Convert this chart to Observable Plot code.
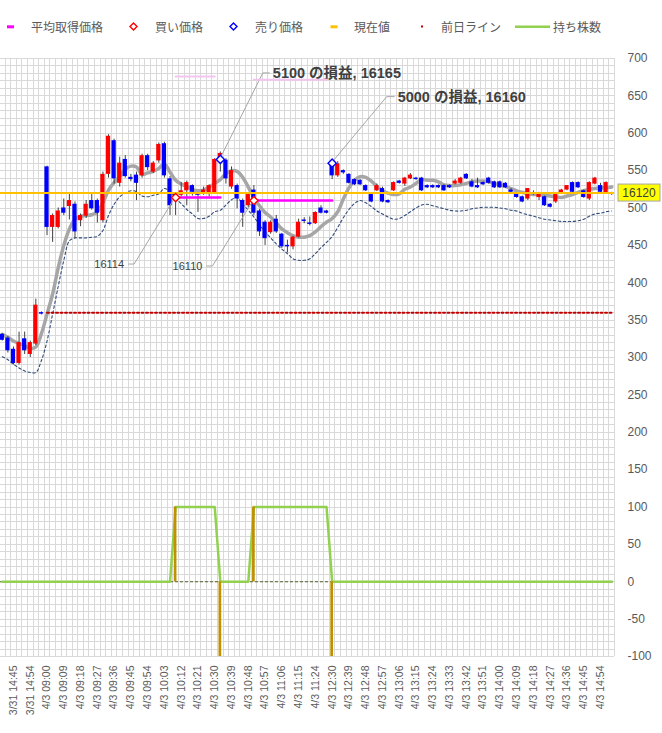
<!DOCTYPE html>
<html><head><meta charset="utf-8">
<script src="https://cdn.jsdelivr.net/npm/d3@7"></script>
<script src="https://cdn.jsdelivr.net/npm/@observablehq/plot@0.6"></script>
<style>
html,body{margin:0;padding:0;background:#fff;overflow:hidden;}
#legend{position:relative;width:662px;height:52px;}
#legend .t{position:absolute;top:18px;font-family:"Noto Sans CJK JP",sans-serif;font-size:12px;line-height:17px;color:#595959;white-space:nowrap;}
#legend svg{position:absolute;left:0;top:0;}
#chart svg{display:block;}
</style></head><body>
<div id="legend"></div>
<div id="chart"></div>
<script>
// ---------- data ----------
const times = [
"3/31 14:39","3/31 14:42","3/31 14:45","3/31 14:48","3/31 14:51","3/31 14:54","3/31 14:57","3/31 15:00",
"4/3 09:00","4/3 09:03","4/3 09:06","4/3 09:09","4/3 09:12","4/3 09:15","4/3 09:18","4/3 09:21","4/3 09:24","4/3 09:27",
"4/3 09:30","4/3 09:33","4/3 09:36","4/3 09:39","4/3 09:42","4/3 09:45","4/3 09:48","4/3 09:51","4/3 09:54","4/3 09:57",
"4/3 10:00","4/3 10:03","4/3 10:06","4/3 10:09","4/3 10:12","4/3 10:15","4/3 10:18","4/3 10:21","4/3 10:24","4/3 10:27",
"4/3 10:30","4/3 10:33","4/3 10:36","4/3 10:39","4/3 10:42","4/3 10:45","4/3 10:48","4/3 10:51","4/3 10:54","4/3 10:57",
"4/3 11:00","4/3 11:03","4/3 11:06","4/3 11:09","4/3 11:12","4/3 11:15","4/3 11:18","4/3 11:21","4/3 11:24","4/3 11:27","4/3 11:30",
"4/3 12:30","4/3 12:33","4/3 12:36","4/3 12:39","4/3 12:42","4/3 12:45","4/3 12:48","4/3 12:51","4/3 12:54","4/3 12:57",
"4/3 13:00","4/3 13:03","4/3 13:06","4/3 13:09","4/3 13:12","4/3 13:15","4/3 13:18","4/3 13:21","4/3 13:24","4/3 13:27",
"4/3 13:30","4/3 13:33","4/3 13:36","4/3 13:39","4/3 13:42","4/3 13:45","4/3 13:48","4/3 13:51","4/3 13:54","4/3 13:57",
"4/3 14:00","4/3 14:03","4/3 14:06","4/3 14:09","4/3 14:12","4/3 14:15","4/3 14:18","4/3 14:21","4/3 14:24","4/3 14:27",
"4/3 14:30","4/3 14:33","4/3 14:36","4/3 14:39","4/3 14:42","4/3 14:45","4/3 14:48","4/3 14:51","4/3 14:54","4/3 14:57","4/3 15:00"
];
// candle values in axis units (price - 15600)
const open = [331,326,311,292,325,304,318,360,555,474,
474,500,502,505,483,489,510,510,483,545,
590,533,565,541,544,543,570,548,563,586,
539,518,517,523,530,519,519,520,520,563,
564,528,530,510,503,524,496,481,467,485,
465,450,448,461,484,480,479,500,496,560,
543,550,545,538,537,530,518,523,526,510,
523,536,532,539,540,540,530,530,530,530,
530,532,533,545,535,530,534,540,535,535,
533,524,519,515,512,519,514,515,505,508,
519,524,534,534,523,512,532,530,520,520];
const high = [332,328,314,334,334,322,378,361,556,492,
500,512,518,508,492,510,518,512,548,598,
592,568,570,545,548,572,572,562,587,588,
542,520,534,536,531,520,528,531,566,575,
566,555,532,512,520,530,498,483,483,490,
466,457,462,485,487,488,495,503,497,562,
562,551,546,539,538,531,519,532,528,511,
535,537,541,546,541,541,531,531,531,531,
531,538,541,546,538,540,535,541,536,536,
534,526,520,516,526,523,521,516,506,518,
525,530,535,535,524,535,541,533,535,521];
const low = [322,306,290,290,304,300,316,357,463,454,
472,490,484,459,475,486,497,480,480,540,
532,528,540,535,510,540,550,546,560,540,
490,490,515,503,516,494,517,515,518,548,
532,525,499,474,500,490,462,450,465,466,
446,440,444,460,479,476,478,492,492,538,
541,545,532,530,530,522,507,522,507,506,
522,532,529,538,537,522,526,526,526,522,
526,531,532,538,527,526,530,532,526,526,
526,520,513,507,510,517,510,502,500,506,
518,523,520,526,513,510,531,520,519,517];
const close = [323,309,292,320,309,320,370,358,474,490,
496,493,510,468,490,505,499,493,545,596,
539,560,542,538,533,570,554,560,585,543,
503,510,523,534,521,517,524,530,565,573,
539,550,512,493,518,493,468,459,481,468,
448,448,461,481,482,478,494,493,493,543,
559,547,533,531,531,523,508,530,508,507,
534,533,540,544,538,523,527,527,527,523,
527,536,540,539,528,527,531,533,527,527,
527,521,514,508,526,518,520,503,501,518,
524,530,521,527,514,534,540,521,534,518];
// moving average (thick grey) and lower band (dashed), axis units
const movingAvg = [331,327,322,319,316,312,314,332,358,385,
420,450,472,485,489,490,491,495,507,524,
534,542,552,556,555,545,547,549,553,559,
548,537,532,529,525,523,524,528,533,538,
546,550,549,541,528,514,503,494,488,480,
472,467,463,461,461,463,468,475,481,486,
495,512,527,537,542,541,536,529,523,520,
518,519,525,528,533,538,537,537,535,531,
530,530,531,533,535,536,536,535,533,531,
529,526,523,521,519,518,518,517,516,515,
514,516,518,521,523,525,526,527,527,528];
const lowerBand = [301,297,291,286,282,280,280,296,322,358,
395,430,456,460,460,460,461,462,470,490,
505,515,520,523,522,516,515,517,519,526,
522,513,506,498,492,486,486,489,495,497,
504,511,514,505,497,488,478,468,460,452,
445,439,432,430,430,432,439,447,454,462,
474,487,498,506,510,507,502,496,492,488,
485,486,490,495,500,504,505,503,501,499,
497,496,496,497,499,500,501,501,501,500,
499,497,496,493,491,489,487,485,484,483,
482,482,482,483,485,489,492,493,495,496];
// shares held (持ち株数)
const holdings = [0,0,0,0,0,0,0,0,0,0, 0,0,0,0,0,0,0,0,0,0, 0,0,0,0,0,0,0,0,0,0,
0,100,100,100,100,100,100,100,100,0, 0,0,0,0,0,100,100,100,100,100,
100,100,100,100,100,100,100,100,100,0, 0,0,0,0,0,0,0,0,0,0,
0,0,0,0,0,0,0,0,0,0, 0,0,0,0,0,0,0,0,0,0, 0,0,0,0,0,0,0,0,0,0, 0,0,0,0,0,0,0,0,0,0];
// average acquisition price (平均取得価格), yen
const avgPrice = [null,null,null,null,null,null,null,null,null,null, null,null,null,null,null,null,null,null,null,null,
null,null,null,null,null,null,null,null,null,null, null,
16114,16114,16114,16114,16114,16114,16114,16114,16114,
null,null,null,null,null,
16110,16110,16110,16110,16110,16110,16110,16110,16110,16110,16110,16110,16110,16110,16110,
null,null,null,null,null,null,null,null,null,null, null,null,null,null,null,null,null,null,null,null,
null,null,null,null,null,null,null,null,null,null, null,null,null,null,null,null,null,null,null,null,
null,null,null,null,null,null,null,null,null,null];
// faint pink series near the top, axis units
const avgGhost = [null,null,null,null,null,null,null,null,null,null, null,null,null,null,null,null,null,null,null,null,
null,null,null,null,null,null,null,null,null,null, null,
676,676,676,676,676,676,676,676,
null,null,null,null,null,null,
671.5,671.5,671.5,671.5,671.5,671.5,671.5,671.5,671.5,671.5,671.5,671.5,671.5,671.5,
null,null,null,null,null,null,null,null,null,null, null,null,null,null,null,null,null,null,null,null,
null,null,null,null,null,null,null,null,null,null, null,null,null,null,null,null,null,null,null,null,
null,null,null,null,null,null,null,null,null,null,null];
// trades
const tradeIdx = [31, 39, 45, 59];
const tradeSide = ["buy", "sell", "buy", "sell"];
const tradePrice = [16114, 16165, 16110, 16160];
const tradeQty = [100, -100, 100, -100];
const tradePnl = [null, 5100, null, 5000];
const currentPrice = 16120;
const prevClose = 15960;
const prevLineFrom = 8;
const OFFSET = 15600;
const yTicks = [-100,-50,0,50,100,150,200,250,300,350,400,450,500,550,600,650,700];
const xTickIdx = [2,5,8,11,14,17,20,23,26,29,32,35,38,41,44,47,50,53,56,59,62,65,68,71,74,77,80,83,86,89,92,95,98,101,104,107];

// ---------- layout / styles ----------
const RED = "#ff0000", BLUE = "#0000ff";
const labelLayout = [
  {bend: [-41, 67], end: [-47, 67], text: [-51, 67], anchor: "end", bold: false},
  {bend: [43, -86], end: [50, -86], text: [53, -86], anchor: "start", bold: true},
  {bend: [-41, 66], end: [-47, 66], text: [-51, 66], anchor: "end", bold: false},
  {bend: [55, -66], end: [63, -66], text: [66, -66], anchor: "start", bold: true}
];

// ---------- tables ----------
const rows = times.map((t, i) => ({
  i, t, o: open[i], h: high[i], l: low[i], c: close[i],
  ma: movingAvg[i], lower: lowerBand[i], hold: holdings[i],
  avg: avgPrice[i] == null ? null : avgPrice[i] - OFFSET,
  ghost: avgGhost[i]
}));
const trades = tradeIdx.map((i, k) => ({
  i, side: tradeSide[k], price: tradePrice[k], y: tradePrice[k] - OFFSET,
  qty: tradeQty[k], pnl: tradePnl[k],
  label: tradePnl[k] == null ? String(tradePrice[k]) : `${tradePnl[k]} の損益, ${tradePrice[k]}`
}));
const prevRows = rows.filter(d => d.i >= prevLineFrom).map(d => ({i: d.i, y: prevClose - OFFSET}));

// ---------- legend ----------
const legendItems = [
  {name: "平均取得価格", tx: 31}, {name: "買い価格", tx: 155}, {name: "売り価格", tx: 255},
  {name: "現在値", tx: 354}, {name: "前日ライン", tx: 441}, {name: "持ち株数", tx: 553}
];
const leg = d3.select("#legend");
const ls = leg.append("svg").attr("width", 662).attr("height", 52);
ls.append("rect").attr("x", 7).attr("y", 25.3).attr("width", 7).attr("height", 3).attr("fill", "#ff00ff");
ls.append("path").attr("d", "M133.5,23 L137,26.5 L133.5,30 L130,26.5Z").attr("fill", "white").attr("stroke", RED).attr("stroke-width", 1.4);
ls.append("path").attr("d", "M233.5,23 L237,26.5 L233.5,30 L230,26.5Z").attr("fill", "white").attr("stroke", BLUE).attr("stroke-width", 1.4);
ls.append("rect").attr("x", 330.5).attr("y", 25.3).attr("width", 7).attr("height", 3).attr("fill", "#ffc000");
ls.append("rect").attr("x", 421).attr("y", 25.5).attr("width", 2).attr("height", 2).attr("fill", "#c00000");
ls.append("line").attr("x1", 515).attr("x2", 550).attr("y1", 26.7).attr("y2", 26.7).attr("stroke", "#92d050").attr("stroke-width", 2.5);
legendItems.forEach(it => leg.append("span").attr("class", "t").style("left", it.tx + "px").text(it.name));

// ---------- annotation mark ----------
function annot(index, scales, values, dims) {
  const g = d3.create("svg:g");
  trades.forEach((t, k) => {
    const L = labelLayout[k];
    const px = scales.x(t.i), py = scales.y(t.y);
    g.append("polyline")
      .attr("points", [[px, py], [px + L.bend[0], py + L.bend[1]], [px + L.end[0], py + L.end[1]]].map(p => p.join(",")).join(" "))
      .attr("fill", "none").attr("stroke", "#a6a6a6").attr("stroke-width", 1);
    g.append("text")
      .attr("x", px + L.text[0]).attr("y", py + L.text[1]).attr("dy", "0.36em")
      .attr("text-anchor", L.anchor)
      .attr("font-family", "'Liberation Sans','Noto Sans CJK JP',sans-serif")
      .attr("font-size", L.bold ? 14.5 : 11)
      .attr("font-weight", L.bold ? "bold" : "normal")
      .attr("fill", "#404040")
      .text(t.label);
  });
  // current price tag on the right axis
  const cy = scales.y(currentPrice - OFFSET);
  const rx = dims.width - dims.marginRight + 4;
  g.append("rect").attr("x", rx).attr("y", cy - 8.5).attr("width", 42).attr("height", 17)
    .attr("fill", "#ffff00").attr("stroke", "#a6a6a6").attr("stroke-width", 1);
  g.append("text").attr("x", rx + 21).attr("y", cy).attr("dy", "0.36em").attr("text-anchor", "middle")
    .attr("font-family", "'Liberation Sans',sans-serif").attr("font-size", 12).attr("fill", "#404040")
    .text(String(currentPrice));
  return g.node();
}

const bodyHalf = 0.38, volHalf = 0.24;
const gridY = d3.range(-100, 701, 10);
const gridX = d3.range(-0.5, times.length, 1);

const chart = Plot.plot({
  width: 662, height: 681,
  marginTop: 6, marginBottom: 77, marginLeft: 0, marginRight: 48,
  style: {fontFamily: "'Liberation Sans','Noto Sans CJK JP',sans-serif", background: "white", overflow: "visible"},
  x: {domain: [-0.5, times.length - 0.5], range: [-1, 614]},
  y: {domain: [-100, 700]},
  marks: [
    Plot.ruleY(gridY, {stroke: "#d9d9d9", strokeWidth: 1, shapeRendering: "crispEdges"}),
    Plot.ruleX(gridX, {stroke: "#d9d9d9", strokeWidth: 1, shapeRendering: "crispEdges"}),
    Plot.ruleY([0], {stroke: "#4f6228", strokeWidth: 1, strokeDasharray: "3,2"}),
    Plot.lineY(rows, {x: "i", y: "lower", stroke: "#2f4b7c", strokeWidth: 1.1, strokeDasharray: "2.5,2.5", curve: "catmull-rom"}),
    Plot.lineY(rows, {x: "i", y: "ma", stroke: "#a6a6a6", strokeWidth: 3.5, curve: "catmull-rom"}),
    Plot.ruleX(rows, {x: "i", y1: "l", y2: "h", stroke: "#404040", strokeWidth: 1}),
    Plot.rect(rows.filter(d => d.c >= d.o), {x1: d => d.i - bodyHalf, x2: d => d.i + bodyHalf, y1: "o", y2: "c", fill: RED}),
    Plot.rect(rows.filter(d => d.c < d.o), {x1: d => d.i - bodyHalf, x2: d => d.i + bodyHalf, y1: "o", y2: "c", fill: BLUE}),
    Plot.lineY(prevRows, {x: "i", y: "y", stroke: "#c00000", strokeWidth: 2, strokeDasharray: "2,2.5"}),
    Plot.ruleY([currentPrice - OFFSET], {stroke: "#ffc000", strokeWidth: 2}),
    Plot.lineY(rows, {x: "i", y: "avg", stroke: "#ff00ff", strokeWidth: 2.5}),
    Plot.lineY(rows, {x: "i", y: "hold", stroke: "#92d050", strokeWidth: 2.5}),
    Plot.rect(trades, {x1: d => d.i - volHalf, x2: d => d.i + volHalf, y1: 0, y2: "qty", fill: "#bf9000"}),
    annot,
    Plot.lineY(rows, {x: "i", y: "ghost", stroke: "#f4c4f0", strokeWidth: 2}),
    Plot.dot(trades.filter(d => d.side === "buy"), {x: "i", y: "y", symbol: "diamond2", r: 3.7, fill: "white", stroke: RED, strokeWidth: 1.4}),
    Plot.dot(trades.filter(d => d.side === "sell"), {x: "i", y: "y", symbol: "diamond2", r: 3.7, fill: "white", stroke: BLUE, strokeWidth: 1.4}),
    Plot.axisX(xTickIdx, {tickFormat: i => times[i], tickRotate: -90, tickSize: 0, tickPadding: 9, fontSize: 10.5, fill: "#595959", label: null}),
    Plot.axisY(yTicks, {anchor: "right", tickSize: 0, tickPadding: 13, tickFormat: d => String(d), fontSize: 12, fill: "#595959", label: null})
  ]
});
document.getElementById("chart").appendChild(chart);
</script>
</body></html>
